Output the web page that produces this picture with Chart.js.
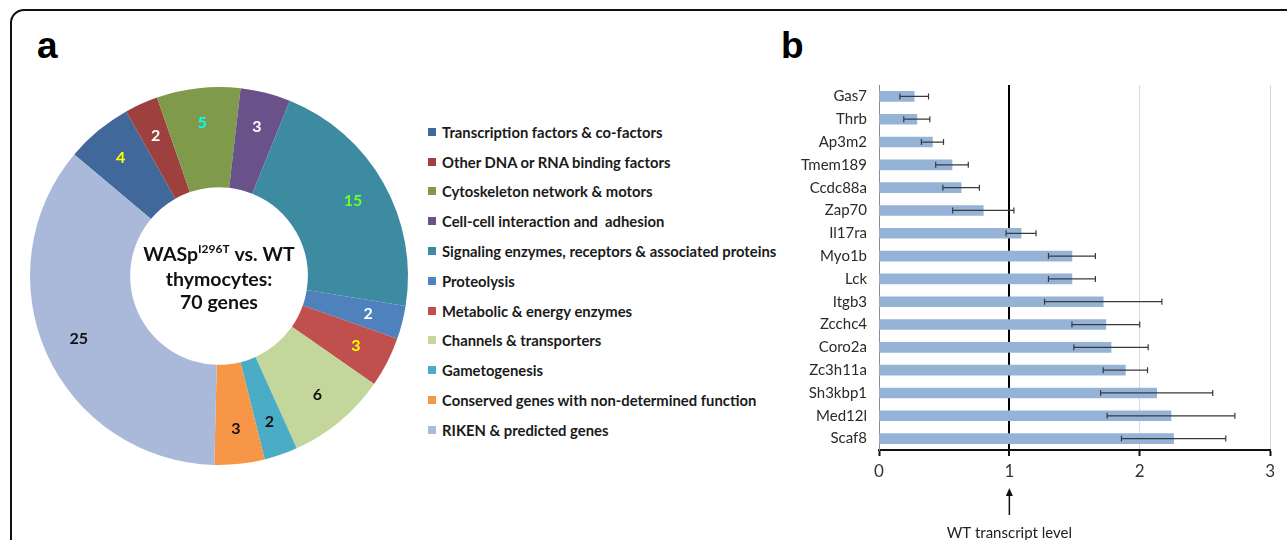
<!DOCTYPE html>
<html>
<head>
<meta charset="utf-8">
<script src="https://cdn.jsdelivr.net/npm/chart.js@4.4.1/dist/chart.umd.min.js"></script>
<style>
  html, body { margin:0; padding:0; background:#fff; }
  body { width:1287px; height:540px; position:relative; overflow:hidden; font-family: Lato, "Open Sans", sans-serif; }
  .frame { position:absolute; left:10px; top:9px; width:1300px; height:560px; border:2px solid #111; border-radius:14px; box-sizing:border-box; }
  .tag { position:absolute; font: bold 37px "Liberation Sans", Arial, sans-serif; color:#000; line-height:1; }
  #pieWrap { position:absolute; left:19px; top:76px; width:400px; height:400px; }
  #legend { position:absolute; left:428px; top:117px; }
  .leg-row { height:29.8px; display:flex; align-items:center; font: bold 14.8px Lato, sans-serif; color:#1a1a1a; white-space:nowrap; }
  .leg-sw { width:8px; height:8px; margin-right:6px; flex:none; }
  #barWrap { position:absolute; left:800px; top:64px; width:480px; height:476px; }
</style>
</head>
<body>
<div class="frame"></div>
<div class="tag" style="left:37px; top:27px;">a</div>
<div class="tag" style="left:781px; top:27px;">b</div>
<div id="pieWrap"><canvas id="pieChart"></canvas></div>
<div id="legend"></div>
<div id="barWrap"><canvas id="barChart"></canvas></div>
<script>
// Panel a: gene categories
const categories = [
  'Transcription factors & co-factors',
  'Other DNA or RNA binding factors',
  'Cytoskeleton network & motors',
  'Cell-cell interaction and  adhesion',
  'Signaling enzymes, receptors & associated proteins',
  'Proteolysis',
  'Metabolic & energy enzymes',
  'Channels & transporters',
  'Gametogenesis',
  'Conserved genes with non-determined function',
  'RIKEN & predicted genes'
];
const geneCounts = [4, 2, 5, 3, 15, 2, 3, 6, 2, 3, 25];
const sliceColors = ['#41689b', '#9e413e', '#7f9a4a', '#69528a', '#3d8ba1', '#4f81bd', '#c0504d', '#c3d69b', '#4bacc6', '#f79646', '#aab9d9'];
const countColors = ['#ffff00', '#ffffff', '#00ffff', '#ffffff', '#66ff33', '#ffffff', '#ffff00', '#111111', '#111111', '#111111', '#111111'];

// Panel b: relative transcript levels
const genes = ['Gas7', 'Thrb', 'Ap3m2', 'Tmem189', 'Ccdc88a', 'Zap70', 'Il17ra', 'Myo1b', 'Lck', 'Itgb3', 'Zcchc4', 'Coro2a', 'Zc3h11a', 'Sh3kbp1', 'Med12l', 'Scaf8'];
const levels = [0.27, 0.29, 0.41, 0.56, 0.63, 0.80, 1.09, 1.48, 1.48, 1.72, 1.74, 1.78, 1.89, 2.13, 2.24, 2.26];
const errors = [0.11, 0.10, 0.085, 0.125, 0.14, 0.235, 0.115, 0.18, 0.18, 0.45, 0.26, 0.285, 0.17, 0.43, 0.49, 0.40];
const xTicks = [0, 1, 2, 3];

// Legend
const legend = document.getElementById('legend');
categories.forEach(function(name, i){
  const row = document.createElement('div');
  row.className = 'leg-row';
  row.innerHTML = '<span class="leg-sw" style="background:' + sliceColors[i] + '"></span>' + name.replace(/  /g, ' &nbsp;');
  legend.appendChild(row);
});

// count labels inside the ring
const sliceLabels = {
  id: 'sliceLabels',
  afterDatasetsDraw(chart){
    const ctx = chart.ctx;
    const meta = chart.getDatasetMeta(0);
    ctx.save();
    ctx.font = 'bold 16px Lato';
    ctx.textAlign = 'center';
    ctx.textBaseline = 'middle';
    meta.data.forEach(function(arc, i){
      const p = arc.getProps(['x', 'y', 'startAngle', 'endAngle', 'innerRadius', 'outerRadius']);
      const a = (p.startAngle + p.endAngle) / 2;
      const r = p.innerRadius + (p.outerRadius - p.innerRadius) * 0.65;
      ctx.fillStyle = countColors[i];
      ctx.fillText(String(geneCounts[i]), p.x + Math.cos(a) * r, p.y + Math.sin(a) * r);
    });
    ctx.restore();
  }
};

// title in the hole
const centerText = {
  id: 'centerText',
  afterDraw(chart){
    const ctx = chart.ctx;
    const arc = chart.getDatasetMeta(0).data[0];
    const cx = arc.x, cy = arc.y;
    ctx.save();
    ctx.fillStyle = '#111';
    ctx.textBaseline = 'middle';
    ctx.textAlign = 'left';
    const big = 'bold 19.5px Lato', small = 'bold 12px Lato';
    ctx.font = big;
    const w1 = ctx.measureText('WASp').width;
    const w3 = ctx.measureText(' vs. WT').width;
    ctx.font = small;
    const w2 = ctx.measureText('I296T').width;
    let x = cx - (w1 + w2 + w3) / 2;
    const y1 = cy - 21;
    ctx.font = big;
    ctx.fillText('WASp', x, y1);
    ctx.font = small;
    ctx.fillText('I296T', x + w1, y1 - 6);
    ctx.font = big;
    ctx.fillText(' vs. WT', x + w1 + w2, y1);
    ctx.textAlign = 'center';
    ctx.fillText('thymocytes:', cx, cy + 4);
    ctx.fillText('70 genes', cx, cy + 27);
    ctx.restore();
  }
};

new Chart(document.getElementById('pieChart').getContext('2d'), {
  type: 'doughnut',
  data: {
    labels: categories,
    datasets: [{
      data: geneCounts,
      backgroundColor: sliceColors,
      borderWidth: 0
    }]
  },
  options: {
    responsive: true,
    maintainAspectRatio: false,
    animation: false,
    rotation: -50,
    radius: 189,
    cutout: 94,
    plugins: {
      legend: { display: false },
      tooltip: { enabled: false }
    }
  },
  plugins: [sliceLabels, centerText]
});

// error bars + WT arrow
const errorBars = {
  id: 'errorBars',
  afterDatasetsDraw(chart){
    const ctx = chart.ctx;
    const xs = chart.scales.x;
    const meta = chart.getDatasetMeta(0);
    ctx.save();
    ctx.strokeStyle = '#3a3a3a';
    ctx.lineWidth = 1.2;
    meta.data.forEach(function(bar, i){
      const lo = xs.getPixelForValue(levels[i] - errors[i]);
      const hi = xs.getPixelForValue(levels[i] + errors[i]);
      const y = bar.y;
      ctx.beginPath();
      ctx.moveTo(lo, y); ctx.lineTo(hi, y);
      ctx.moveTo(lo, y - 3); ctx.lineTo(lo, y + 3);
      ctx.moveTo(hi, y - 3); ctx.lineTo(hi, y + 3);
      ctx.stroke();
    });
    ctx.restore();
  },
  afterDraw(chart){
    const ctx = chart.ctx;
    const x1 = chart.scales.x.getPixelForValue(1);
    const bottom = chart.chartArea.bottom;
    ctx.save();
    ctx.strokeStyle = '#111';
    ctx.fillStyle = '#111';
    ctx.lineWidth = 1.5;
    ctx.beginPath();
    ctx.moveTo(x1, bottom + 65); ctx.lineTo(x1, bottom + 44);
    ctx.stroke();
    ctx.beginPath();
    ctx.moveTo(x1, bottom + 38); ctx.lineTo(x1 - 3.5, bottom + 46); ctx.lineTo(x1 + 3.5, bottom + 46);
    ctx.closePath();
    ctx.fill();
    ctx.font = '15px Lato';
    ctx.textAlign = 'center';
    ctx.textBaseline = 'middle';
    ctx.fillStyle = '#222';
    ctx.fillText('WT transcript level', x1, bottom + 83);
    ctx.restore();
  }
};

new Chart(document.getElementById('barChart').getContext('2d'), {
  type: 'bar',
  data: {
    labels: genes,
    datasets: [{
      data: levels,
      backgroundColor: '#95b3d7',
      barThickness: 10
    }]
  },
  options: {
    indexAxis: 'y',
    responsive: true,
    maintainAspectRatio: false,
    animation: false,
    layout: { padding: { top: 5, right: 9, left: 0, bottom: 0 } },
    plugins: {
      legend: { display: false },
      tooltip: { enabled: false }
    },
    scales: {
      x: {
        min: 0,
        max: 3,
        afterFit: function(s){ s.height = 90; },
        afterBuildTicks: function(s){ s.ticks = xTicks.map(v => ({ value: v })); },
        ticks: { color: '#333', font: { size: 17, family: 'Lato' }, padding: 5 },
        grid: {
          color: function(c){ return c.tick && c.tick.value === 1 ? '#000' : (c.tick && c.tick.value === 0 ? '#8c8c8c' : '#d9d9d9'); },
          lineWidth: function(c){ return c.tick && c.tick.value === 1 ? 2 : 1; },
          tickColor: '#111',
          tickLength: 6,
          tickWidth: 2
        },
        border: { display: true, color: '#111', width: 2 }
      },
      y: {
        afterFit: function(s){ s.width = 79; },
        ticks: { color: '#2a2a2a', font: { size: 15, family: 'Lato' }, padding: 12 },
        grid: { display: false, drawTicks: false },
        border: { display: true, color: '#8c8c8c', width: 1 }
      }
    }
  },
  plugins: [errorBars]
});
</script>
</body>
</html>
